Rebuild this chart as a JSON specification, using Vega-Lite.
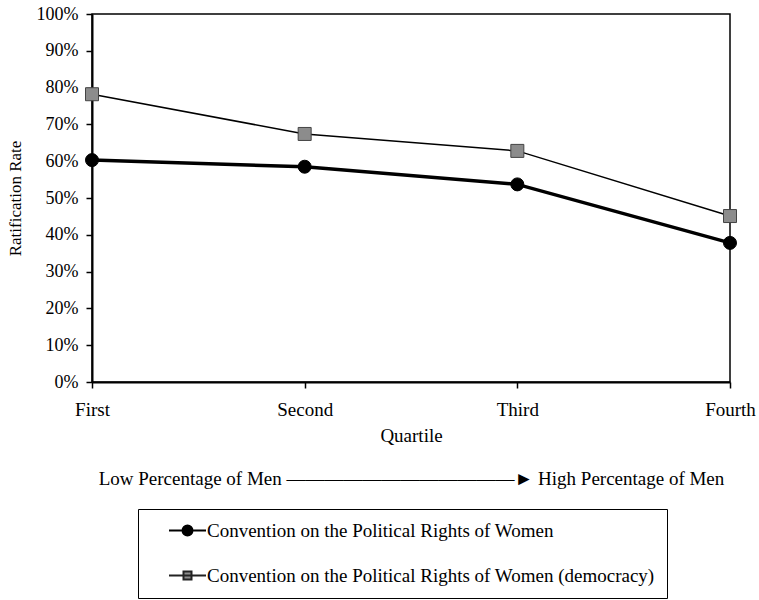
{
  "$schema": "https://vega.github.io/schema/vega-lite/v6.json",
  "width": 638,
  "height": 368,
  "autosize": "none",
  "padding": {"left": 92, "top": 14, "right": 29, "bottom": 218},
  "background": "white",
  "config": {
    "font": "Liberation Serif",
    "view": {"stroke": "black", "strokeWidth": 1.5},
    "axis": {"grid": false, "domainColor": "black", "domainWidth": 2, "tickColor": "black", "tickWidth": 1.5, "labelColor": "black", "titleColor": "black", "titleFontWeight": "normal", "labelFont": "Liberation Serif", "titleFont": "Liberation Serif"}
  },
  "data": {
    "values": [
      {"quartile": "First", "series": "Convention on the Political Rights of Women", "rate": 0.603},
      {"quartile": "Second", "series": "Convention on the Political Rights of Women", "rate": 0.585},
      {"quartile": "Third", "series": "Convention on the Political Rights of Women", "rate": 0.537},
      {"quartile": "Fourth", "series": "Convention on the Political Rights of Women", "rate": 0.378},
      {"quartile": "First", "series": "Convention on the Political Rights of Women (democracy)", "rate": 0.782},
      {"quartile": "Second", "series": "Convention on the Political Rights of Women (democracy)", "rate": 0.674},
      {"quartile": "Third", "series": "Convention on the Political Rights of Women (democracy)", "rate": 0.628},
      {"quartile": "Fourth", "series": "Convention on the Political Rights of Women (democracy)", "rate": 0.451}
    ]
  },
  "encoding": {
    "x": {
      "field": "quartile", "type": "ordinal",
      "sort": ["First", "Second", "Third", "Fourth"],
      "scale": {"type": "point", "padding": 0},
      "axis": {
        "labelAngle": 0, "labelFontSize": 19, "labelPadding": 12, "tickSize": 6,
        "title": ["Quartile", "Low Percentage of Men ————————————► High Percentage of Men"],
        "titleFontSize": 19, "titleLineHeight": 43, "titlePadding": 7
      }
    },
    "y": {
      "field": "rate", "type": "quantitative",
      "scale": {"domain": [0, 1]},
      "axis": {
        "values": [0, 0.1, 0.2, 0.3, 0.4, 0.5, 0.6, 0.7, 0.8, 0.9, 1],
        "format": ".0%", "labelFontSize": 18, "tickSize": 6, "labelPadding": 8,
        "title": "Ratification Rate", "titleFontSize": 17, "titlePadding": 12
      }
    }
  },
  "layer": [
    {
      "transform": [{"filter": {"field": "series", "equal": "Convention on the Political Rights of Women"}}],
      "mark": {"type": "line", "color": "black", "strokeWidth": 3.5}
    },
    {
      "transform": [{"filter": {"field": "series", "equal": "Convention on the Political Rights of Women (democracy)"}}],
      "mark": {"type": "line", "color": "black", "strokeWidth": 1.5}
    },
    {
      "mark": {"type": "point", "filled": true, "size": 169, "opacity": 1, "strokeWidth": 1},
      "encoding": {
        "shape": {
          "field": "series", "type": "nominal", "legend": null,
          "scale": {"domain": ["Convention on the Political Rights of Women", "Convention on the Political Rights of Women (democracy)"], "range": ["circle", "square"]}
        },
        "fill": {
          "field": "series", "type": "nominal", "legend": null,
          "scale": {"domain": ["Convention on the Political Rights of Women", "Convention on the Political Rights of Women (democracy)"], "range": ["black", "#8c8c8c"]}
        },
        "stroke": {
          "field": "series", "type": "nominal", "legend": null,
          "scale": {"domain": ["Convention on the Political Rights of Women", "Convention on the Political Rights of Women (democracy)"], "range": ["black", "#444444"]}
        }
      }
    },
    {
      "mark": {"type": "point", "filled": true, "opacity": 0},
      "encoding": {
        "shape": {
          "field": "series", "type": "nominal",
          "scale": {"domain": ["Convention on the Political Rights of Women", "Convention on the Political Rights of Women (democracy)"], "range": ["M-3.7,0L3.7,0M-1,0A1,1 0 1,1 1,0A1,1 0 1,1 -1,0Z", "M-3.7,0L3.7,0M-0.8,-0.8L0.8,-0.8L0.8,0.8L-0.8,0.8Z"]},
          "legend": {
            "title": null, "orient": "none", "legendX": 46, "legendY": 495,
            "strokeColor": "black", "fillColor": "white", "padding": 12,
            "symbolSize": 100, "symbolOffset": 28, "labelOffset": 10,
            "symbolOpacity": 1, "symbolStrokeWidth": 2,
            "labelFontSize": 19, "labelFont": "Liberation Serif", "labelColor": "black",
            "labelLimit": 700, "rowPadding": 25,
            "labelExpr": "datum.label + '\u00a0\u00a0\u00a0'"
          }
        },
        "fill": {
          "field": "series", "type": "nominal",
          "scale": {"domain": ["Convention on the Political Rights of Women", "Convention on the Political Rights of Women (democracy)"], "range": ["black", "#8c8c8c"]}
        },
        "stroke": {
          "field": "series", "type": "nominal",
          "scale": {"domain": ["Convention on the Political Rights of Women", "Convention on the Political Rights of Women (democracy)"], "range": ["black", "#222222"]}
        }
      }
    }
  ],
  "resolve": {"scale": {"shape": "independent", "fill": "independent", "stroke": "independent"}}
}
